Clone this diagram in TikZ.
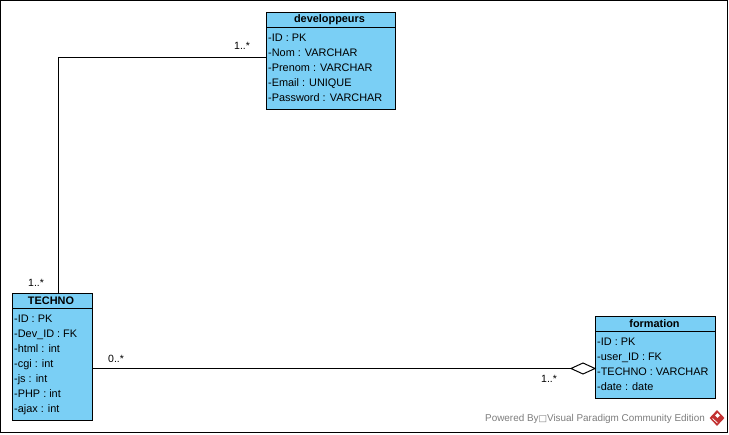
\documentclass[tikz,border=0pt]{standalone}
\usepackage{fontspec}
\setmainfont{Liberation Sans}
\newfontfamily\symfont{DejaVu Sans}
\usetikzlibrary{shapes.geometric}
\definecolor{umlblue}{RGB}{122,207,245}
\definecolor{wm}{RGB}{125,125,125}
\definecolor{vplogo}{RGB}{195,50,50}
\tikzset{
  x=1pt,y=-1pt,
  classbox/.style={draw=black,fill=umlblue,line width=1pt,anchor=north west,inner sep=0pt,outer sep=0pt},
  titletext/.style={font=\fontsize{10.9}{12}\selectfont\bfseries,anchor=center,inner sep=0pt},
  attr/.style={font=\fontsize{10.9}{12}\selectfont,anchor=base west,inner sep=0pt},
  mult/.style={font=\fontsize{10.5}{12}\selectfont,anchor=base west,inner sep=0pt},
  conn/.style={draw=black,line width=1pt},
}
\begin{document}
\begin{tikzpicture}
\useasboundingbox (0,0) rectangle (729,435);
\fill[white] (0,0) rectangle (729,435);
\node[draw=black,line width=1pt,minimum width=727pt,minimum height=432pt,anchor=north west,inner sep=0pt,outer sep=0pt] (frame) at (0.5,0.5) {};
% developpeurs
\node[classbox,minimum width=128.5pt,minimum height=97.5pt] (dev) at (266.5,12.5) {};
\coordinate (devh) at (266.5,27.5);
\draw[conn] (devh) -- ++(128.5,0);
\node[titletext] (devt) at (329.5,20) {developpeurs};
\node[attr] (d1) at (268,41.5) {-ID : PK};
\node[attr] (d2) at (268,56.5) {-Nom : VARCHAR};
\node[attr] (d3) at (268,71.5) {-Prenom : VARCHAR};
\node[attr] (d4) at (268,86.5) {-Email : UNIQUE};
\node[attr] (d5) at (268,101.5) {-Password : VARCHAR};
% TECHNO
\node[classbox,minimum width=80pt,minimum height=127.5pt] (tech) at (12.5,293.5) {};
\coordinate (techh) at (12.5,308.5);
\draw[conn] (techh) -- ++(80,0);
\node[titletext] (techt) at (51,301) {TECHNO};
\node[attr] (t1) at (14,322.5) {-ID : PK};
\node[attr] (t2) at (14,337.5) {-Dev\_ID : FK};
\node[attr] (t3) at (14,352.5) {-html : int};
\node[attr] (t4) at (14,367.5) {-cgi : int};
\node[attr] (t5) at (14,382.5) {-js : int};
\node[attr] (t6) at (14,397.5) {-PHP : int};
\node[attr] (t7) at (14,412.5) {-ajax : int};
% formation
\node[classbox,minimum width=120pt,minimum height=82.5pt] (form) at (595.5,316.5) {};
\coordinate (formh) at (595.5,331.5);
\draw[conn] (formh) -- ++(120,0);
\node[titletext] (formt) at (654.5,324) {formation};
\node[attr] (f1) at (597,345.5) {-ID : PK};
\node[attr] (f2) at (597,360.5) {-user\_ID : FK};
\node[attr] (f3) at (597,375.5) {-TECHNO : VARCHAR};
\node[attr] (f4) at (597,390.5) {-date : date};
% connectors
\coordinate (bend) at (58.5,57.5);
\coordinate (devend) at (266.5,57.5);
\coordinate (techtop) at (58.5,293.5);
\draw[conn] (devend) -- (bend) -- (techtop);
\node[diamond,draw=black,fill=white,line width=1pt,minimum width=24pt,minimum height=11pt,inner sep=0pt,outer sep=0pt,aspect=2.2] (agg) at (583,368.5) {};
\coordinate (techr) at (92.5,368.5);
\draw[conn] (techr) -- (agg.west);
\draw[conn] (agg.east) -- (agg.east -| form.west);
% multiplicities
\node[mult] (m1) at (234,50) {1..*};
\node[mult] (m2) at (28,286.5) {1..*};
\node[mult] (m3) at (108,362.5) {0..*};
\node[mult] (m4) at (541,383) {1..*};
% watermark
\node[font=\fontsize{9.9}{12}\selectfont,text=wm,anchor=base west,inner sep=0pt] (wmk) at (485,422) {Powered By{\symfont\fontsize{9}{10}\selectfont □}Visual Paradigm Community Edition};
\node[diamond,fill=vplogo,minimum width=15pt,minimum height=16pt,inner sep=0pt] (logo) at (717,418) {};
\node[diamond,fill=white,minimum width=5pt,minimum height=5pt,inner sep=0pt] (logoc) at (717.5,415.5) {};
\draw[white,line width=0.7pt] (712.5,418.5) -- (717.5,423);
\end{tikzpicture}
\end{document}
